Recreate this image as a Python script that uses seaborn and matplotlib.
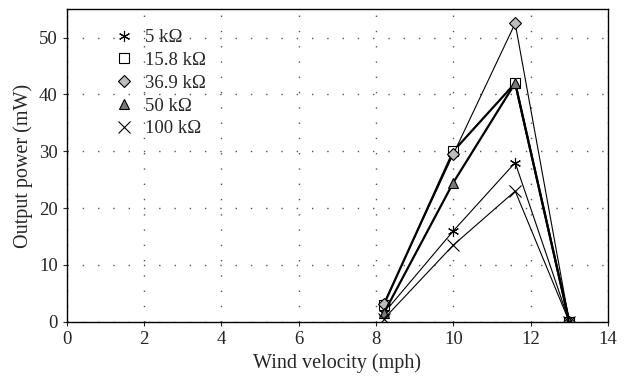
import pandas as pd
import seaborn as sns
import matplotlib.pyplot as plt

# wind velocity (mph) and output power (mW) per load resistance
velocity = [8.2, 10.0, 11.6, 13.0]
p_5k = [1.5, 16.0, 28.0, 0.0]
p_15k8 = [3.0, 30.0, 42.0, 0.0]
p_36k9 = [3.2, 29.5, 52.5, 0.0]
p_50k = [1.5, 24.5, 42.0, 0.0]
p_100k = [0.5, 13.5, 23.0, 0.0]
labels = ['5 k\u03a9', '15.8 k\u03a9', '36.9 k\u03a9', '50 k\u03a9', '100 k\u03a9']

series = [p_5k, p_15k8, p_36k9, p_50k, p_100k]
rows = []
for lab, vals in zip(labels, series):
    for v, p in zip(velocity, vals):
        rows.append({'Load': lab, 'Velocity': v, 'Power': p})
data = pd.DataFrame(rows)

sns.set_style('ticks')
plt.rcParams['font.family'] = ['Liberation Serif', 'DejaVu Serif']

styles = {
    labels[0]: dict(marker=(6, 2, 0), mfc='black', ms=8, lw=0.8),
    labels[1]: dict(marker='s', mfc='white', ms=7, lw=1.6),
    labels[2]: dict(marker='D', mfc='#bdbdbd', ms=6.5, lw=0.8),
    labels[3]: dict(marker='^', mfc='#7a7a7a', ms=7.5, lw=1.6),
    labels[4]: dict(marker='x', mfc='black', ms=8, lw=0.8),
}

fig = plt.figure(figsize=(6.3, 3.8), dpi=100)
ax = fig.add_axes([0.106, 0.153, 0.859, 0.823])

for lab in labels:
    st = styles[lab]
    sub = data[data['Load'] == lab]
    sns.lineplot(x='Velocity', y='Power', data=sub, ax=ax, color='black',
                 linewidth=st['lw'], marker=st['marker'], markersize=st['ms'],
                 markerfacecolor=st['mfc'], markeredgecolor='black',
                 markeredgewidth=0.8, label=lab)

ax.set_xlim(0, 14)
ax.set_ylim(0, 55)
ax.set_xticks(range(0, 15, 2))
ax.set_yticks(range(0, 51, 10))
ax.grid(True, color='#555555', linestyle=(0, (1, 10)), linewidth=1.0)
ax.tick_params(labelsize=13.5, direction='out', length=3)
for s in ax.spines.values():
    s.set_linewidth(1.0)
    s.set_color('black')
ax.set_xlabel('Wind velocity (mph)', fontsize=14.5)
ax.set_ylabel('Output power (mW)', fontsize=14.5)

leg = ax.legend(loc='upper left', frameon=False, fontsize=13.5, handlelength=1.2,
                handletextpad=0.5, labelspacing=0.3, borderaxespad=0.0,
                bbox_to_anchor=(0.072, 0.96))
for h in leg.legend_handles:
    h.set_linestyle('none')

fig.savefig('out.png', dpi=100)
